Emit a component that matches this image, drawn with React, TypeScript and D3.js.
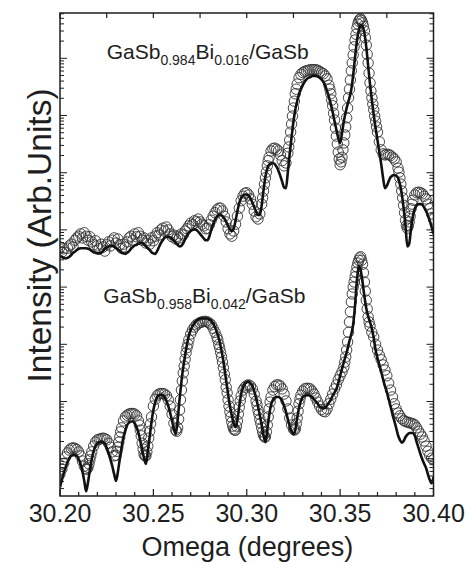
import React from "react";
import * as d3 from "d3";

// ---- data (omega in degrees, intensity stored as log10 of arbitrary units) ----
const OMEGA_START = 30.2;
const OMEGA_STEP = 0.001;
const xDomain = [30.2, 30.4];
const logDomain = [0.348, 8.792];
const xMajorTicks = [30.2, 30.25, 30.3, 30.35, 30.4];
const xTickLabels = ["30.20", "30.25", "30.30", "30.35", "30.40"];
const xTitle = "Omega (degrees)";
const yTitle = "Intensity (Arb.Units)";
const upperComposition = ["0.984", "0.016"];
const lowerComposition = ["0.958", "0.042"];

const upperMeasuredLog = [
  4.70, 4.61, 4.67, 4.60, 4.68, 4.72, 4.75, 4.70, 4.82, 4.86,
  4.89, 4.93, 4.86, 4.95, 4.89, 4.82, 4.88, 4.79, 4.74, 4.81,
  4.72, 4.67, 4.75, 4.70, 4.63, 4.74, 4.79, 4.72, 4.82, 4.86,
  4.77, 4.84, 4.74, 4.68, 4.75, 4.70, 4.79, 4.86, 4.89, 4.82,
  4.93, 4.88, 4.95, 4.89, 4.82, 4.86, 4.77, 4.82, 4.75, 4.86,
  4.81, 4.89, 4.95, 4.91, 5.00, 5.03, 4.98, 5.05, 5.00, 4.93,
  4.88, 4.91, 4.84, 4.89, 4.86, 4.93, 4.91, 4.98, 5.02, 5.07,
  5.12, 5.09, 5.16, 5.14, 5.19, 5.14, 5.10, 5.07, 5.02, 5.03,
  5.09, 5.17, 5.24, 5.30, 5.35, 5.38, 5.38, 5.33, 5.24, 5.14,
  5.02, 4.93, 4.89, 4.98, 5.10, 5.24, 5.38, 5.51, 5.59, 5.64,
  5.65, 5.61, 5.54, 5.45, 5.33, 5.23, 5.19, 5.28, 5.45, 5.68,
  5.91, 6.12, 6.27, 6.38, 6.42, 6.43, 6.41, 6.38, 6.31, 6.21,
  6.12, 6.17, 6.34, 6.57, 6.85, 7.13, 7.38, 7.55, 7.66, 7.72,
  7.75, 7.77, 7.78, 7.79, 7.80, 7.80, 7.80, 7.80, 7.79, 7.77,
  7.75, 7.73, 7.69, 7.64, 7.53, 7.38, 7.17, 6.92, 6.64, 6.36,
  6.14, 6.27, 6.52, 6.80, 7.13, 7.46, 7.78, 8.06, 8.32, 8.53,
  8.65, 8.69, 8.62, 8.48, 8.23, 7.92, 7.57, 7.31, 7.10, 6.90,
  6.71, 6.54, 6.40, 6.33, 6.31, 6.32, 6.32, 6.30, 6.27, 6.24,
  6.19, 6.08, 5.91, 5.68, 5.43, 5.17, 5.03, 5.14, 5.37, 5.52,
  5.61, 5.65, 5.66, 5.65, 5.63, 5.59, 5.54, 5.45, 5.37, 5.28,
  5.19,
];

const upperMeasuredExtra: [number, number[]][] = [
  [30.3085, [5.56, 5.80, 6.01, 6.21]],
  [30.3225, [6.45, 6.71, 6.99, 7.25, 7.46]],
  [30.3445, [7.46, 7.27, 7.04, 6.78, 6.50, 6.24, 6.19, 6.40, 6.66, 6.96, 7.31, 7.62, 7.92, 8.20, 8.42, 8.60, 8.68, 8.66, 8.56, 8.36, 8.07, 7.74, 7.43, 7.20, 6.99, 6.80]],
  [30.3815, [6.01, 5.80, 5.56, 5.30, 5.08, 5.07, 5.24, 5.45]],
];

const upperSimulatedLog = [
  4.54, 4.53, 4.51, 4.50, 4.51, 4.53, 4.56, 4.60, 4.62, 4.65,
  4.67, 4.68, 4.68, 4.68, 4.68, 4.67, 4.66, 4.63, 4.61, 4.60,
  4.59, 4.59, 4.60, 4.63, 4.67, 4.69, 4.71, 4.72, 4.72, 4.71,
  4.68, 4.66, 4.63, 4.60, 4.59, 4.58, 4.60, 4.63, 4.67, 4.70,
  4.73, 4.74, 4.76, 4.77, 4.77, 4.74, 4.72, 4.68, 4.65, 4.61,
  4.59, 4.58, 4.63, 4.70, 4.77, 4.82, 4.86, 4.88, 4.88, 4.87,
  4.84, 4.81, 4.77, 4.74, 4.71, 4.72, 4.77, 4.84, 4.90, 4.95,
  4.98, 5.00, 5.01, 5.00, 4.97, 4.93, 4.89, 4.85, 4.82, 4.82,
  4.89, 5.00, 5.10, 5.18, 5.23, 5.26, 5.26, 5.24, 5.20, 5.14,
  5.07, 5.01, 4.98, 5.02, 5.16, 5.33, 5.47, 5.56, 5.60, 5.62,
  5.62, 5.60, 5.55, 5.48, 5.40, 5.32, 5.26, 5.26, 5.43, 5.70,
  5.93, 6.07, 6.14, 6.16, 6.17, 6.15, 6.10, 6.03, 5.94, 5.84,
  5.74, 5.73, 6.01, 6.33, 6.62, 6.89, 7.10, 7.25, 7.38, 7.46,
  7.53, 7.59, 7.63, 7.66, 7.67, 7.69, 7.69, 7.69, 7.68, 7.66,
  7.63, 7.59, 7.52, 7.43, 7.32, 7.20, 7.06, 6.90, 6.75, 6.61,
  6.52, 6.69, 6.90, 7.06, 7.20, 7.31, 7.46, 7.71, 8.02, 8.30,
  8.49, 8.58, 8.56, 8.44, 8.20, 7.87, 7.55, 7.27, 7.01, 6.78,
  6.57, 6.36, 6.15, 5.91, 5.73, 5.77, 5.85, 5.92, 5.95, 5.96,
  5.95, 5.91, 5.80, 5.63, 5.38, 5.08, 4.71, 4.76, 5.03, 5.24,
  5.37, 5.43, 5.45, 5.45, 5.44, 5.39, 5.33, 5.25, 5.16, 5.05,
  4.93,
];

const lowerMeasuredLog = [
  0.73, 0.82, 0.92, 1.03, 1.10, 1.15, 1.18, 1.19, 1.18, 1.16,
  1.12, 1.05, 0.96, 0.87, 0.82, 0.85, 0.98, 1.12, 1.22, 1.29,
  1.33, 1.34, 1.35, 1.36, 1.35, 1.33, 1.27, 1.20, 1.12, 1.05,
  1.06, 1.20, 1.38, 1.54, 1.66, 1.73, 1.76, 1.78, 1.79, 1.79,
  1.78, 1.75, 1.66, 1.50, 1.27, 1.08, 1.05, 1.22, 1.48, 1.73,
  1.92, 2.04, 2.10, 2.13, 2.14, 2.14, 2.13, 2.10, 2.03, 1.92,
  1.78, 1.62, 1.50, 1.54, 1.85, 2.20, 2.50, 2.74, 2.94, 3.08,
  3.18, 3.25, 3.30, 3.34, 3.36, 3.38, 3.39, 3.40, 3.40, 3.39,
  3.37, 3.34, 3.28, 3.21, 3.13, 3.00, 2.86, 2.69, 2.48, 2.25,
  2.03, 1.82, 1.64, 1.52, 1.50, 1.66, 1.90, 2.10, 2.20, 2.25,
  2.28, 2.29, 2.27, 2.22, 2.13, 2.01, 1.85, 1.69, 1.54, 1.41,
  1.38, 1.59, 1.87, 2.08, 2.20, 2.26, 2.29, 2.29, 2.27, 2.22,
  2.13, 2.01, 1.87, 1.71, 1.59, 1.52, 1.52, 1.71, 1.96, 2.11,
  2.18, 2.22, 2.23, 2.23, 2.22, 2.18, 2.13, 2.06, 1.99, 1.92,
  1.86, 1.83, 1.82, 1.87, 1.96, 2.04, 2.13, 2.22, 2.29, 2.38,
  2.45, 2.52, 2.60, 2.78, 3.04, 3.39, 3.74, 4.00, 4.18, 4.35,
  4.47, 4.53, 4.40, 4.09, 3.77, 3.48, 3.32, 3.21, 3.13, 3.00,
  2.90, 2.81, 2.73, 2.64, 2.55, 2.45, 2.32, 2.20, 2.08, 1.96,
  1.87, 1.80, 1.75, 1.70, 1.67, 1.65, 1.64, 1.63, 1.62, 1.61,
  1.59, 1.54, 1.48, 1.43, 1.38, 1.31, 1.22, 1.13, 1.06, 1.01,
  0.98,
];

const lowerMeasuredExtra: [number, number[]][] = [
  [30.2145, [0.82, 0.91, 1.05]],
  [30.2305, [1.13, 1.29, 1.47]],
  [30.2425, [1.59, 1.40, 1.17, 1.05, 1.12, 1.36, 1.61]],
  [30.2625, [1.48, 1.69, 2.03, 2.36, 2.62, 2.85, 3.00]],
  [30.2845, [3.08, 2.94, 2.78, 2.59, 2.38, 2.15, 1.92, 1.73, 1.57, 1.50, 1.57, 1.78, 2.01]],
  [30.3055, [1.94, 1.78, 1.62, 1.47, 1.38, 1.47, 1.73, 1.99]],
  [30.3255, [1.50, 1.61, 1.83, 2.04]],
  [30.3525, [2.69, 2.90, 3.21, 3.57, 3.88, 4.09, 4.26, 4.42, 4.51, 4.47, 4.25, 3.93, 3.62, 3.39]],
];

const lowerSimulatedLog = [
  0.50, 0.63, 0.75, 0.85, 0.94, 1.01, 1.05, 1.06, 1.06, 1.05,
  0.99, 0.91, 0.78, 0.61, 0.43, 0.59, 0.80, 0.99, 1.13, 1.22,
  1.27, 1.29, 1.30, 1.29, 1.26, 1.19, 1.10, 0.99, 0.87, 0.73,
  0.61, 0.77, 0.99, 1.20, 1.38, 1.50, 1.59, 1.63, 1.65, 1.65,
  1.62, 1.55, 1.45, 1.31, 1.15, 1.01, 0.91, 1.12, 1.38, 1.64,
  1.85, 1.99, 2.08, 2.11, 2.12, 2.11, 2.08, 2.01, 1.92, 1.80,
  1.66, 1.52, 1.43, 1.68, 2.03, 2.34, 2.60, 2.81, 3.00, 3.15,
  3.25, 3.32, 3.37, 3.41, 3.43, 3.45, 3.45, 3.45, 3.45, 3.45,
  3.43, 3.41, 3.36, 3.30, 3.21, 3.11, 2.97, 2.80, 2.59, 2.36,
  2.13, 1.92, 1.75, 1.62, 1.55, 1.68, 1.92, 2.13, 2.25, 2.31,
  2.34, 2.35, 2.32, 2.27, 2.18, 2.06, 1.92, 1.76, 1.59, 1.41,
  1.29, 1.50, 1.76, 1.94, 2.03, 2.07, 2.08, 2.08, 2.06, 2.01,
  1.92, 1.82, 1.69, 1.57, 1.48, 1.43, 1.50, 1.71, 1.89, 2.01,
  2.08, 2.10, 2.11, 2.11, 2.10, 2.08, 2.04, 2.00, 1.96, 1.91,
  1.89, 1.88, 1.89, 1.93, 1.98, 2.03, 2.10, 2.16, 2.22, 2.32,
  2.45, 2.57, 2.69, 2.80, 2.92, 3.06, 3.18, 3.35, 3.69, 4.12,
  4.37, 4.30, 4.09, 3.84, 3.63, 3.49, 3.39, 3.27, 3.11, 2.90,
  2.76, 2.64, 2.52, 2.39, 2.27, 2.17, 2.04, 1.92, 1.78, 1.66,
  1.54, 1.41, 1.33, 1.28, 1.31, 1.38, 1.42, 1.45, 1.45, 1.45,
  1.40, 1.29, 1.19, 1.08, 0.99, 0.91, 0.84, 0.73, 0.63, 0.57,
  0.68,
];

type Pt = { omega: number; intensity: number };

function gridSeries(logs: number[]): Pt[] {
  return logs.map((v, i) => ({ omega: OMEGA_START + i * OMEGA_STEP, intensity: Math.pow(10, v) }));
}
function extraSeries(extra: [number, number[]][]): Pt[] {
  const out: Pt[] = [];
  extra.forEach(([start, vals]) =>
    vals.forEach((v, k) => out.push({ omega: start + k * OMEGA_STEP, intensity: Math.pow(10, v) }))
  );
  return out;
}

const FONT = "'Liberation Sans', Arial, Helvetica, sans-serif";
const INK = "#1e1e1e";

function Composition({ x, y, parts }: { x: number; y: number; parts: string[] }) {
  return (
    <text x={x} y={y} fontFamily={FONT} fontSize={21} fill={INK}>
      GaSb
      <tspan fontSize={14} dy={6}>{parts[0]}</tspan>
      <tspan fontSize={21} dy={-6}>Bi</tspan>
      <tspan fontSize={14} dy={6}>{parts[1]}</tspan>
      <tspan fontSize={21} dy={-6}>/GaSb</tspan>
    </text>
  );
}

export default function App() {
  const W = 471;
  const H = 563;
  const left = 60;
  const right = 433.5;
  const top = 13;
  const bottom = 496;

  const x = d3.scaleLinear().domain(xDomain).range([left, right]);
  const y = d3
    .scaleLog()
    .domain([Math.pow(10, logDomain[0]), Math.pow(10, logDomain[1])])
    .range([bottom, top]);

  const upperMeasured = gridSeries(upperMeasuredLog).concat(extraSeries(upperMeasuredExtra));
  const lowerMeasured = gridSeries(lowerMeasuredLog).concat(extraSeries(lowerMeasuredExtra));
  const upperSim = gridSeries(upperSimulatedLog);
  const lowerSim = gridSeries(lowerSimulatedLog);

  const line = d3
    .line<Pt>()
    .x((d) => x(d.omega))
    .y((d) => y(d.intensity))
    .curve(d3.curveMonotoneX);

  const xMinor = d3.range(0, 21).map((k) => ({ v: OMEGA_START + k * 0.01, major: k % 5 === 0 }));
  const xTop = d3.range(0, 9).map((k) => OMEGA_START + k * 0.025);

  const yTicks: { v: number; major: boolean }[] = [];
  for (let dec = 0; dec <= 9; dec++) {
    for (let m = 1; m <= 9; m++) {
      const v = m * Math.pow(10, dec);
      const lv = Math.log10(v);
      if (lv >= logDomain[0] && lv <= logDomain[1]) yTicks.push({ v, major: m === 1 });
    }
  }

  const circle = (d: Pt, i: number, key: string) => (
    <circle
      key={key + i}
      cx={x(d.omega)}
      cy={y(d.intensity)}
      r={5.2}
      fill="none"
      stroke="#333"
      strokeWidth={0.9}
    />
  );

  return (
    <svg
      width={W}
      height={H}
      style={{ position: "absolute", left: 0, top: 0, background: "#fff" }}
    >
      <defs>
        <clipPath id="plotClip">
          <rect x={left} y={top} width={right - left} height={bottom - top} />
        </clipPath>
      </defs>
      <rect x={0} y={0} width={W} height={H} fill="#fff" />

      <g clipPath="url(#plotClip)">
        {upperMeasured.map((d, i) => circle(d, i, "u"))}
        {lowerMeasured.map((d, i) => circle(d, i, "l"))}
        <path d={line(upperSim) || ""} fill="none" stroke="#111" strokeWidth={2.6} strokeLinejoin="round" />
        <path d={line(lowerSim) || ""} fill="none" stroke="#111" strokeWidth={2.6} strokeLinejoin="round" />
      </g>

      {/* frame */}
      <rect x={left} y={top} width={right - left} height={bottom - top} fill="none" stroke={INK} strokeWidth={1.5} />

      {/* bottom ticks */}
      {xMinor.map((t, i) => (
        <line key={"xb" + i} x1={x(t.v)} x2={x(t.v)} y1={bottom} y2={bottom - (t.major ? 7 : 4)} stroke={INK} strokeWidth={1.2} />
      ))}
      {/* top ticks */}
      {xTop.map((v, i) => (
        <line key={"xt" + i} x1={x(v)} x2={x(v)} y1={top} y2={top + 5} stroke={INK} strokeWidth={1.2} />
      ))}
      {/* y ticks left/right */}
      {yTicks.map((t, i) => (
        <g key={"y" + i}>
          <line x1={left} x2={left + (t.major ? 7 : 4)} y1={y(t.v)} y2={y(t.v)} stroke={INK} strokeWidth={1} />
          <line x1={right} x2={right - (t.major ? 7 : 4)} y1={y(t.v)} y2={y(t.v)} stroke={INK} strokeWidth={1} />
        </g>
      ))}

      {/* x tick labels */}
      {xMajorTicks.map((v, i) => (
        <text key={"xl" + i} x={x(v)} y={521.7} textAnchor="middle" fontFamily={FONT} fontSize={25} fill={INK}>
          {xTickLabels[i]}
        </text>
      ))}

      <text x={247.4} y={555.5} textAnchor="middle" fontFamily={FONT} fontSize={27} fill={INK}>
        {xTitle}
      </text>
      <text
        transform="translate(50.5,235.5) rotate(-90)"
        textAnchor="middle"
        fontFamily={FONT}
        fontSize={33.5}
        fill={INK}
      >
        {yTitle}
      </text>

      <Composition x={106.7} y={59.3} parts={upperComposition} />
      <Composition x={103.3} y={303.3} parts={lowerComposition} />
    </svg>
  );
}
